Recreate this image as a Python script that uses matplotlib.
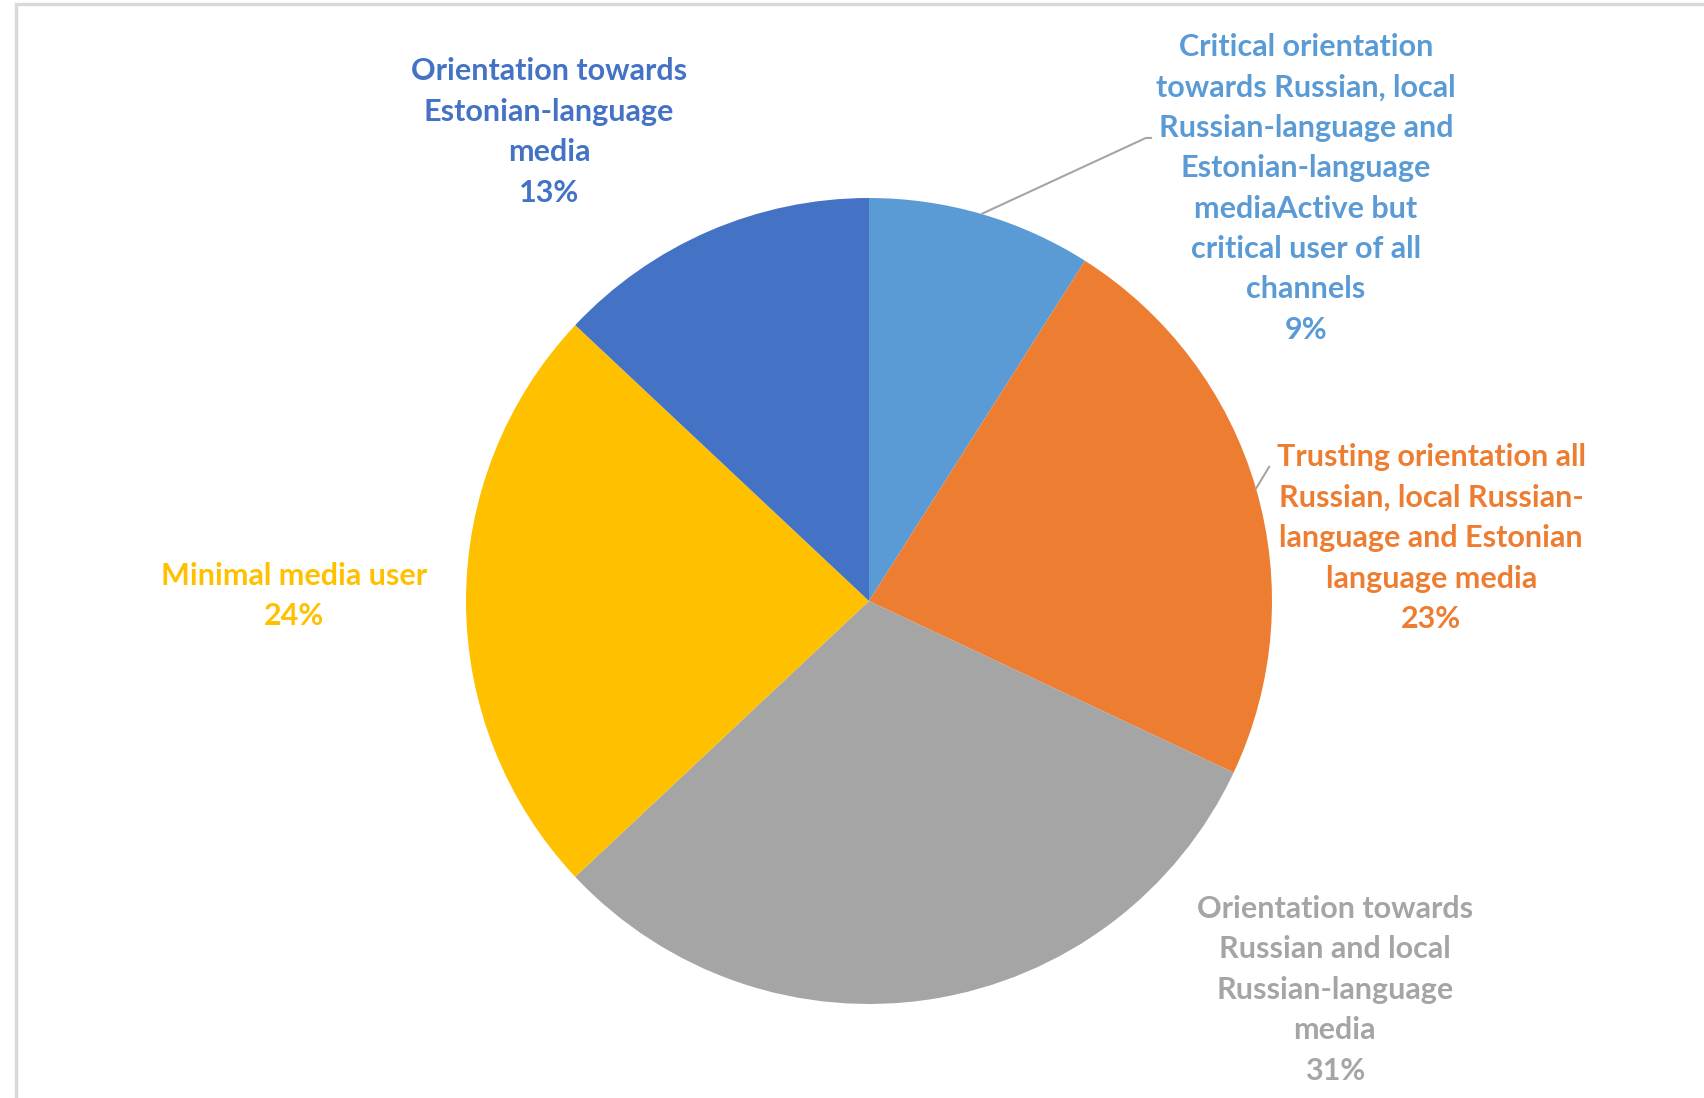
import numpy as np
import matplotlib.pyplot as plt
from matplotlib.patches import Rectangle

# 데이터
labels = ['Critical orientation\ntowards Russian, local\nRussian-language and\nEstonian-language\nmediaActive but\ncritical user of all\nchannels',
          'Trusting orientation all\nRussian, local Russian-\nlanguage and Estonian\nlanguage media',
          'Orientation towards\nRussian and local\nRussian-language\nmedia',
          'Minimal media user',
          'Orientation towards\nEstonian-language\nmedia']
values = [9, 23, 31, 24, 13]
colors = ['#5B9BD5', '#ED7D31', '#A5A5A5', '#FFC000', '#4472C4']

# 레이아웃 (파이 반지름 = 1 기준)
label_pos = [(1.084, 1.024), (1.395, 0.156), (1.156, -0.965), (-1.427, 0.012), (-0.794, 1.164)]
text_colors = ['#5B9BD5', '#ED7D31', '#A5A5A5', '#FFC000', '#4472C4']

W, H = 1704, 1098
cx, cy, r = 869, 601, 403  # 픽셀 단위 중심과 반지름

fig = plt.figure(figsize=(W / 100, H / 100), dpi=100)
ax = fig.add_axes([0, 0, 1, 1])
ax.axis('off')

wedges, _ = ax.pie(values, colors=colors, startangle=90, counterclock=False,
                   radius=1.0, wedgeprops=dict(linewidth=0))
ax.set_xlim(-cx / r, (W - cx) / r)
ax.set_ylim(-(H - cy) / r, cy / r)
ax.set_aspect('auto')

for lab, v, (x, y), c in zip(labels, values, label_pos, text_colors):
    ax.text(x, y, f'{lab}\n{v}%', ha='center', va='center', color=c,
            fontsize=22, fontweight='bold', family='Lato', linespacing=1.54)

# 지시선
def mid(w):
    a = np.deg2rad((w.theta1 + w.theta2) / 2)
    return np.cos(a), np.sin(a)

x0, y0 = mid(wedges[0])
ax.plot([x0, 0.687, 0.702], [y0, 1.149, 1.149], color='#A5A5A5', lw=1.5, solid_capstyle='butt')
x1, y1 = mid(wedges[1])
ax.plot([x1, 0.993], [y1, 0.333], color='#A5A5A5', lw=1.5)

# 테두리
fig.add_artist(Rectangle((16 / W, -0.1), 1.2, 1.1 - 4 / H, transform=fig.transFigure,
                         fill=False, edgecolor='#D9D9D9', lw=2.5))

fig.savefig('out.png', dpi=100)
